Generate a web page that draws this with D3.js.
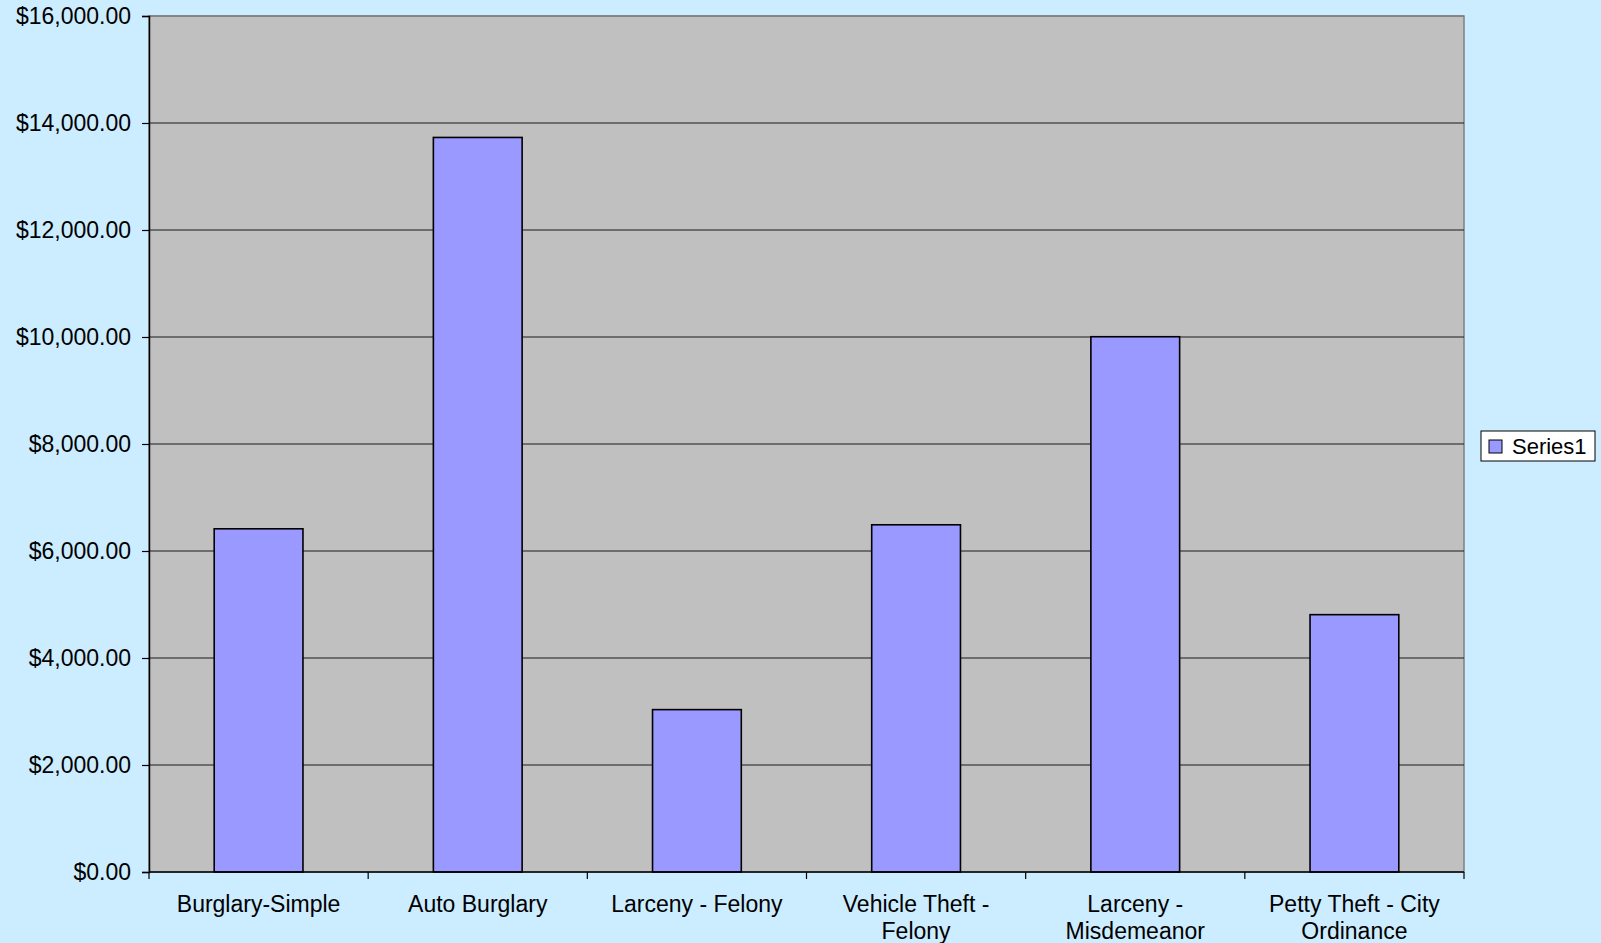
<!DOCTYPE html>
<html>
<head>
<meta charset="utf-8">
<script src="https://cdn.jsdelivr.net/npm/d3@7"></script>
<style>
body{margin:0;background:#ccecff;}
text{font-family:"Liberation Sans",Arial,sans-serif;fill:#000;}
</style>
</head>
<body>
<svg width="1601" height="943"></svg>
<script>
var categories = [["Burglary-Simple"],["Auto Burglary"],["Larceny - Felony"],["Vehicle Theft -","Felony"],["Larceny -","Misdemeanor"],["Petty Theft - City","Ordinance"]];
var values = [6415, 13730, 3035, 6490, 10005, 4810];
var yTicks = [0,2000,4000,6000,8000,10000,12000,14000,16000];
var seriesName = "Series1";

var svg = d3.select("svg"),
    pLeft = 149, pRight = 1464, pTop = 16, pBottom = 872;

var x = d3.scaleBand().domain(d3.range(categories.length)).range([pLeft, pRight]).padding(0);
var y = d3.scaleLinear().domain([0,16000]).range([pBottom, pTop]);
var bw = x.bandwidth()*0.405;
var fmt = d3.format("$,.2f");

// plot area
svg.append("rect").attr("x",pLeft).attr("y",pTop).attr("width",pRight-pLeft).attr("height",pBottom-pTop)
   .attr("fill","#c0c0c0").attr("stroke","#808080").attr("stroke-width",1.5);

// gridlines
svg.selectAll(".grid").data(yTicks.slice(1)).enter().append("line")
   .attr("x1",pLeft).attr("x2",pRight)
   .attr("y1",d=>y(d)).attr("y2",d=>y(d))
   .attr("stroke",d=>d==16000?"#777":"#1a1a1a").attr("stroke-width",1.2);

// bars
svg.selectAll(".bar").data(values).enter().append("rect")
   .attr("x",(d,i)=>x(i)+x.bandwidth()/2-bw/2)
   .attr("y",d=>y(d))
   .attr("width",bw).attr("height",d=>pBottom-y(d))
   .attr("fill","#9999ff").attr("stroke","#000").attr("stroke-width",1.6);

// y axis
var ya = svg.append("g").attr("transform","translate("+pLeft+",0)")
   .call(d3.axisLeft(y).tickValues(yTicks).tickFormat(fmt).tickSize(7).tickPadding(11));
ya.select(".domain").attr("stroke","#000").attr("stroke-width",1.5);
ya.selectAll(".tick line").attr("stroke","#000").attr("stroke-width",1.2);
ya.selectAll("text").attr("font-size",23).attr("font-family","Liberation Sans, Arial");

// x axis
svg.append("line").attr("x1",pLeft).attr("x2",pRight).attr("y1",pBottom).attr("y2",pBottom)
   .attr("stroke","#000").attr("stroke-width",1.5);
svg.selectAll(".xt").data(d3.range(categories.length+1)).enter().append("line")
   .attr("x1",i=>pLeft+i*x.step()).attr("x2",i=>pLeft+i*x.step())
   .attr("y1",pBottom).attr("y2",pBottom+7)
   .attr("stroke","#000").attr("stroke-width",1.2);

var labels = svg.selectAll(".xl").data(categories).enter().append("text")
   .attr("text-anchor","middle").attr("font-size",23)
   .attr("transform",(d,i)=>"translate("+(x(i)+x.bandwidth()/2)+",912)");
labels.selectAll("tspan").data(d=>d).enter().append("tspan")
   .attr("x",0).attr("y",(d,j)=>j*27).text(d=>d);

// legend
var lg = svg.append("g").attr("transform","translate(1481,431)");
lg.append("rect").attr("width",114).attr("height",30).attr("fill","#fff").attr("stroke","#000");
lg.append("rect").attr("x",8).attr("y",9).attr("width",13).attr("height",13)
  .attr("fill","#9999ff").attr("stroke","#000");
lg.append("text").attr("x",31).attr("y",23).attr("font-size",22).text(seriesName);
</script>
</body>
</html>
